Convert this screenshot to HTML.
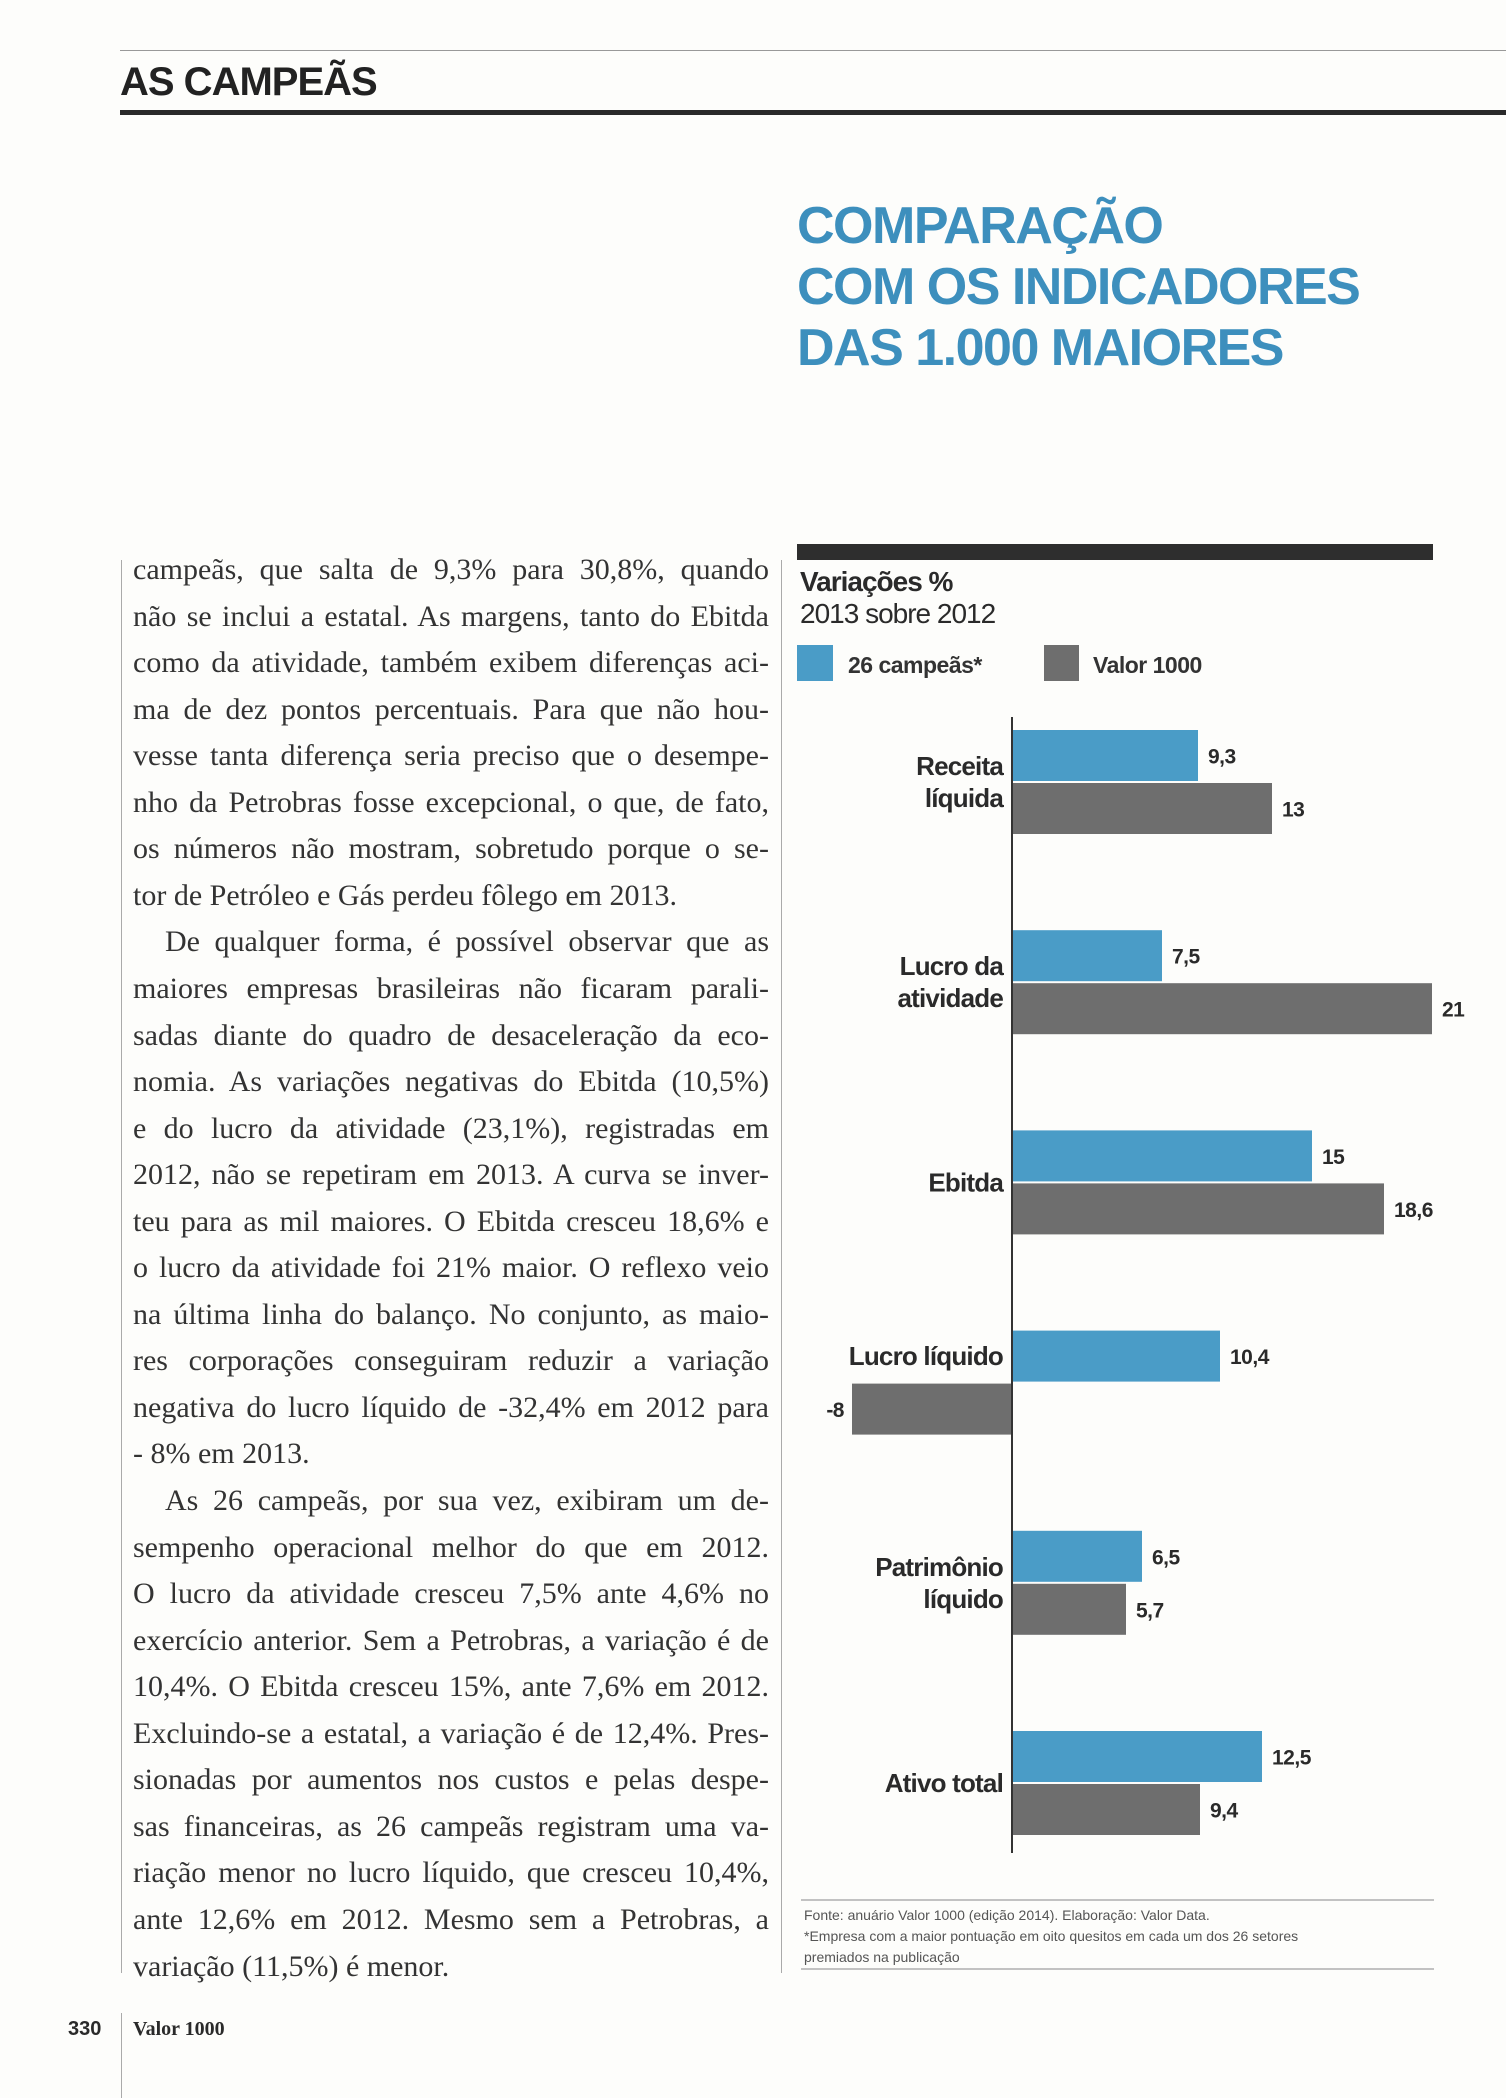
<!DOCTYPE html>
<html><head><meta charset="utf-8">
<style>
body{margin:0;width:1506px;height:2098px;background:#fdfdfb;position:relative;overflow:hidden;font-family:"Liberation Sans",sans-serif;color:#2a2a2a}
.abs{position:absolute}
.body-line{position:absolute;left:133px;width:636px;font-family:"Liberation Serif",serif;font-size:30px;white-space:nowrap;text-align:justify;text-align-last:justify;color:#333;line-height:34px}
.body-line.last{text-align-last:left}
.body-line.ind{left:165px;width:604px}
</style></head><body>
<div class="abs" style="left:120px;top:50px;width:1386px;height:1px;background:#999"></div>
<div class="abs" style="left:120px;top:60px;font-size:40px;font-weight:bold;letter-spacing:-1px;color:#222">AS CAMPEÃS</div>
<div class="abs" style="left:120px;top:110px;width:1386px;height:5px;background:#2a2a2a"></div>
<div class="abs" style="left:797px;top:196px;font-size:52px;line-height:61px;font-weight:bold;letter-spacing:-1.5px;color:#3d8fbd">COMPARAÇÃO<br>COM OS INDICADORES<br>DAS 1.000 MAIORES</div>
<div class="abs" style="left:121px;top:560px;width:1px;height:1413px;background:#aaa"></div>
<div class="abs" style="left:781px;top:560px;width:1px;height:1413px;background:#aaa"></div>
<div class="abs" style="left:121px;top:2013px;width:1px;height:85px;background:#aaa"></div>
<div class="abs" style="left:68px;top:2018px;font-size:20px;font-weight:bold">330</div>
<div class="abs" style="left:133px;top:2018px;font-size:20px;font-weight:bold;font-family:'Liberation Serif',serif">Valor 1000</div>
<div id="text"></div>

<svg class="abs" style="left:0;top:0" width="1506" height="2098">
<rect x="797" y="544" width="636" height="16" fill="#2e2e2e"/>
<text x="800" y="591" font-size="28" font-weight="bold" fill="#2a2a2a" letter-spacing="-1">Variações %</text>
<text x="800" y="623" font-size="28" fill="#2a2a2a" letter-spacing="-1">2013 sobre 2012</text>
<rect x="797" y="645" width="36" height="36" fill="#4a9cc7"/>
<text x="848" y="673" font-size="23" font-weight="bold" fill="#333" letter-spacing="-0.5">26 campeãs*</text>
<rect x="1044" y="645" width="35" height="36" fill="#6e6e6e"/>
<text x="1093" y="673" font-size="23" font-weight="bold" fill="#333" letter-spacing="-0.5">Valor 1000</text>
<g id="bars"></g>
<line x1="1012" y1="717" x2="1012" y2="1853" stroke="#333" stroke-width="2"/>
<line x1="801" y1="1900" x2="1434" y2="1900" stroke="#888"/>
<line x1="801" y1="1969" x2="1434" y2="1969" stroke="#888"/>
<text x="804" y="1920" font-size="14" fill="#555">Fonte: anuário Valor 1000 (edição 2014). Elaboração: Valor Data.</text>
<text x="804" y="1941" font-size="14" fill="#555">*Empresa com a maior pontuação em oito quesitos em cada um dos 26 setores</text>
<text x="804" y="1962" font-size="14" fill="#555">premiados na publicação</text>
</svg>

<script>
const categories=[["Receita","líquida"],["Lucro da","atividade"],["Ebitda"],["Lucro líquido"],["Patrimônio","líquido"],["Ativo total"]];
const campeas=[9.3,7.5,15,10.4,6.5,12.5];
const valor1000=[13,21,18.6,-8,5.7,9.4];
const labelsCampeas=["9,3","7,5","15","10,4","6,5","12,5"];
const labelsValor=["13","21","18,6","-8","5,7","9,4"];

const NS="http://www.w3.org/2000/svg";
const x0=1012, pxPerUnit=20, firstTop=730, groupStep=200.2, barH=51, gap=2;
const xs=v=>x0+v*pxPerUnit;
const g=document.getElementById('bars');
function mk(tag,attrs){const e=document.createElementNS(NS,tag);for(const k in attrs)e.setAttribute(k,attrs[k]);return e;}
categories.forEach((cat,i)=>{
  const top=firstTop+i*groupStep;
  [[campeas,labelsCampeas,'#4a9cc7','campeas'],[valor1000,labelsValor,'#6e6e6e','valor1000']].forEach((s,j)=>{
    const v=s[0][i];const y=top+j*(barH+gap);
    const r=mk('rect',{x:Math.min(xs(0),xs(v)),y:y,width:Math.abs(xs(v)-xs(0)),height:barH,fill:s[2]});
    
    
    g.appendChild(r);
    const t=mk('text',{x:v>=0?xs(v)+10:xs(v)-8,y:y+barH/2+8,'font-size':21,'font-weight':'bold',fill:'#2a2a2a','text-anchor':v>=0?'start':'end','letter-spacing':'-0.5'});
    t.textContent=s[1][i];
    
    
    g.appendChild(t);
  });
  let mid=top+barH+1;
  const minV=Math.min(campeas[i],valor1000[i]);
  if(minV<0){ mid = valor1000[i]<0 ? top+barH/2 : top+barH+gap+barH/2; }
  const n=cat.length;
  cat.forEach((line,k)=>{
    const t=mk('text',{x:1003,y:mid+9+(k-(n-1)/2)*32,'font-size':26,'font-weight':'bold',fill:'#2a2a2a','text-anchor':'end','letter-spacing':'-0.8'});
    t.textContent=line;
    
    
    g.appendChild(t);
  });
});

const lines=[
["campeãs, que salta de 9,3% para 30,8%, quando",""],
["não se inclui a estatal. As margens, tanto do Ebitda",""],
["como da atividade, também exibem diferenças aci-",""],
["ma de dez pontos percentuais. Para que não hou-",""],
["vesse tanta diferença seria preciso que o desempe-",""],
["nho da Petrobras fosse excepcional, o que, de fato,",""],
["os números não mostram, sobretudo porque o se-",""],
["tor de Petróleo e Gás perdeu fôlego em 2013.","last"],
["De qualquer forma, é possível observar que as","ind"],
["maiores empresas brasileiras não ficaram parali-",""],
["sadas diante do quadro de desaceleração da eco-",""],
["nomia. As variações negativas do Ebitda (10,5%)",""],
["e do lucro da atividade (23,1%), registradas em",""],
["2012, não se repetiram em 2013. A curva se inver-",""],
["teu para as mil maiores. O Ebitda cresceu 18,6% e",""],
["o lucro da atividade foi 21% maior. O reflexo veio",""],
["na última linha do balanço. No conjunto, as maio-",""],
["res corporações conseguiram reduzir a variação",""],
["negativa do lucro líquido de -32,4% em 2012 para",""],
["- 8% em 2013.","last"],
["As 26 campeãs, por sua vez, exibiram um de-","ind"],
["sempenho operacional melhor do que em 2012.",""],
["O lucro da atividade cresceu 7,5% ante 4,6% no",""],
["exercício anterior. Sem a Petrobras, a variação é de",""],
["10,4%. O Ebitda cresceu 15%, ante 7,6% em 2012.",""],
["Excluindo-se a estatal, a variação é de 12,4%. Pres-",""],
["sionadas por aumentos nos custos e pelas despe-",""],
["sas financeiras, as 26 campeãs registram uma va-",""],
["riação menor no lucro líquido, que cresceu 10,4%,",""],
["ante 12,6% em 2012. Mesmo sem a Petrobras, a",""],
["variação (11,5%) é menor.","last"]];
const tx=document.getElementById('text');
lines.forEach((l,i)=>{
  const d=document.createElement('div');
  d.className='body-line '+l[1];
  d.style.top=(553+i*46.55)+'px';
  d.textContent=l[0];
  
  
  tx.appendChild(d);
});
</script>
</body></html>
